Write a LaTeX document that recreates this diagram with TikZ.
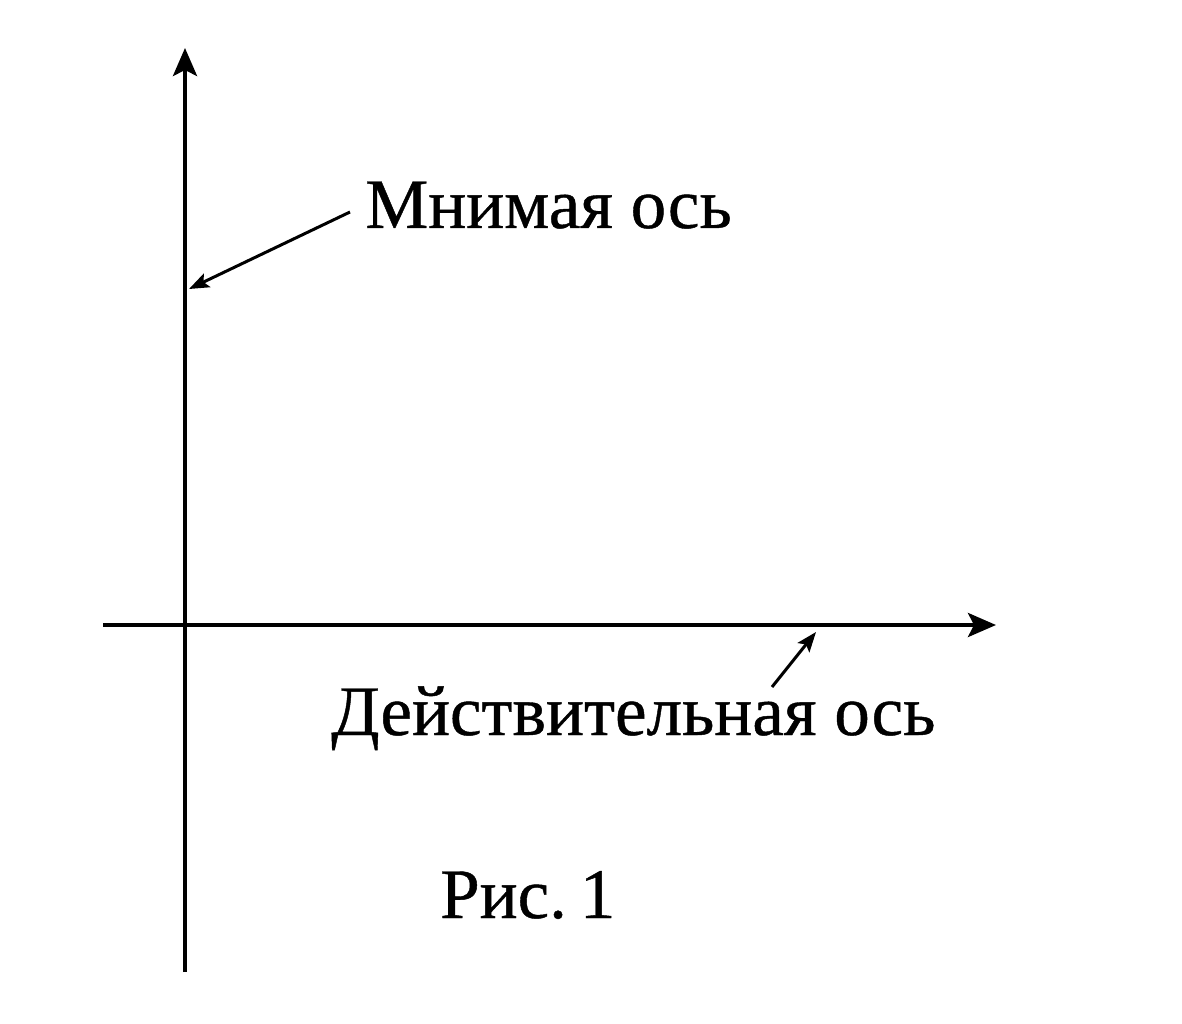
\documentclass[tikz,border=0pt]{standalone}
\usepackage{fontspec}
\setmainfont[FakeBold=0.6]{Liberation Serif}
\usetikzlibrary{arrows.meta}
\begin{document}
\begin{tikzpicture}[x=1pt,y=-1pt,
  axis/.style={line width=4pt,-{Stealth[length=28pt,width=24pt,inset=6pt]}},
  pointer/.style={line width=3pt,-{Stealth[length=20pt,width=15pt,inset=4pt]}},
  lbl/.style={inner sep=0pt,anchor=base west,font=\fontsize{71}{80}\selectfont}]
\useasboundingbox (0,0) rectangle (1182,1024);
\coordinate (ybot) at (185,972);
\coordinate (ytop) at (185,48);
\coordinate (xleft) at (103,625);
\coordinate (xright) at (996,625);
\coordinate (mtip) at (189,289);
\coordinate (dtip) at (816,632);
\draw[axis] (ybot) -- (ytop);
\draw[axis] (xleft) -- (xright);
\node[lbl] (mlab) at (365,228) {Мнимая ось};
\node[lbl] (dlab) at (331,735) {Действительная ось};
\node[lbl] (ris) at (440,918) {Рис.\hspace{13pt}1};
\coordinate (mstart) at (350,212);
\coordinate (dstart) at (772,687);
\draw[pointer] (mstart) -- (mtip);
\draw[pointer] (dstart) -- (dtip);
\end{tikzpicture}
\end{document}
